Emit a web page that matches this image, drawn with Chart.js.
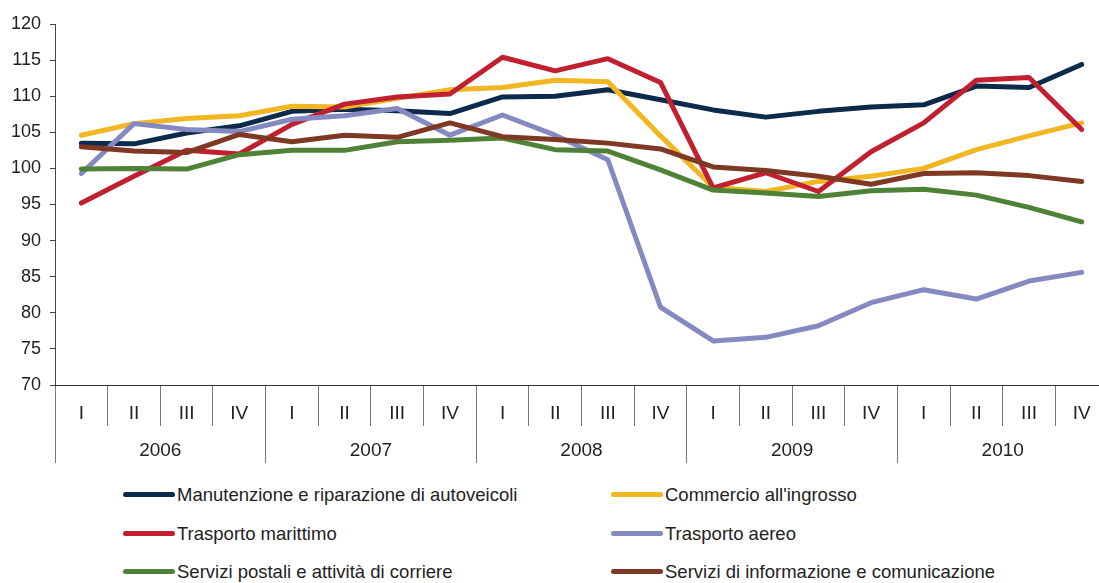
<!DOCTYPE html>
<html>
<head>
<meta charset="utf-8">
<script src="https://cdn.jsdelivr.net/npm/chart.js@4/dist/chart.umd.min.js"></script>
<style>
  html, body { margin: 0; padding: 0; background: #fff; overflow: hidden; }
  #wrap { position: relative; width: 1099px; height: 583px; overflow: hidden; }
  #chart { position: absolute; left: 0; top: 0; }
  .item { position: absolute; height: 24px; font: 18.5px "Liberation Sans", Arial, sans-serif; color: #222; white-space: nowrap; }
  .item .swatch { position: absolute; left: 0; top: 9px; width: 52px; height: 5px; border-radius: 3px; }
  .item .label { position: absolute; left: 54px; top: 0; line-height: 24px; }
</style>
</head>
<body>
<div id="wrap">
  <canvas id="chart" width="1108" height="470"></canvas>
  <div id="legend"></div>
</div>
<script>
var quarters = ["I", "II", "III", "IV", "I", "II", "III", "IV", "I", "II", "III", "IV",
  "I", "II", "III", "IV", "I", "II", "III", "IV"];
var years = ["2006", "2007", "2008", "2009", "2010"];
var yTicks = { min: 70, max: 120, step: 5 };

var manutenzione = [103.5, 103.4, 104.9, 105.9, 107.9, 108.2, 108.0, 107.6, 109.9, 110.0,
  110.9, 109.5, 108.1, 107.1, 107.9, 108.5, 108.8, 111.4, 111.2, 114.4];
var commercio = [104.6, 106.2, 106.9, 107.3, 108.6, 108.5, 109.7, 110.9, 111.2, 112.2,
  112.0, 104.5, 97.4, 96.8, 98.2, 98.9, 100.0, 102.6, 104.5, 106.3];
var marittimo = [95.2, 98.9, 102.5, 102.0, 106.1, 108.9, 109.9, 110.3, 115.4, 113.5,
  115.2, 111.9, 97.3, 99.4, 96.8, 102.3, 106.3, 112.2, 112.6, 105.4];
var aereo = [99.3, 106.2, 105.4, 105.1, 106.8, 107.3, 108.3, 104.6, 107.4, 104.6,
  101.2, 80.8, 76.1, 76.6, 78.2, 81.4, 83.2, 81.9, 84.4, 85.6];
var postali = [99.9, 100.0, 99.9, 101.9, 102.5, 102.5, 103.7, 103.9, 104.2, 102.6,
  102.4, 99.8, 97.0, 96.6, 96.1, 96.9, 97.1, 96.3, 94.6, 92.6];
var informazione = [103.0, 102.4, 102.2, 104.7, 103.7, 104.6, 104.3, 106.3, 104.4, 104.0,
  103.5, 102.7, 100.2, 99.7, 98.9, 97.8, 99.3, 99.4, 99.0, 98.2];

var seriesNames = [
  "Manutenzione e riparazione di autoveicoli",
  "Commercio all'ingrosso",
  "Trasporto marittimo",
  "Trasporto aereo",
  "Servizi postali e attività di corriere",
  "Servizi di informazione e comunicazione"
];
var seriesData = [manutenzione, commercio, marittimo, aereo, postali, informazione];
var seriesColors = ["#0c2a4b", "#f3b623", "#c0202f", "#8589c1", "#4e8237", "#7e3823"];

var font = "'Liberation Sans', Arial, sans-serif";
var textColor = "#222";

// later series sit on top of earlier ones
var datasets = seriesNames.map(function (name, i) {
  return {
    label: name,
    data: seriesData[i],
    borderColor: seriesColors[i],
    backgroundColor: seriesColors[i],
    borderWidth: 5,
    borderCapStyle: "round",
    borderJoinStyle: "round",
    pointRadius: 0,
    tension: 0,
    order: seriesNames.length - i
  };
});

var ctx = document.getElementById("chart");
var chart = new Chart(ctx, {
  type: "line",
  data: { labels: quarters, datasets: datasets },
  options: {
    responsive: false,
    animation: false,
    devicePixelRatio: 1,
    layout: { padding: { top: 24, right: 0, left: 0, bottom: 7 } },
    plugins: { legend: { display: false }, tooltip: { enabled: false } },
    scales: {
      y: {
        min: yTicks.min,
        max: yTicks.max,
        ticks: { stepSize: yTicks.step, padding: 9, color: textColor, font: { family: font, size: 18 } },
        grid: { drawOnChartArea: false, tickLength: 5, color: "#444" },
        border: { color: "#444" },
        afterFit: function (scale) { scale.width = 55; }
      },
      x: {
        weight: 0,
        offset: true,
        ticks: { padding: -23.4, maxRotation: 0, autoSkip: false, color: textColor, font: { family: font, size: 19 } },
        grid: { offset: true, drawOnChartArea: false, tickLength: 41, color: "#777" },
        border: { color: "#333" },
        afterFit: function (scale) { scale.height = 40; }
      },
      x2: {
        type: "category",
        position: "bottom",
        weight: 1,
        labels: years,
        offset: true,
        ticks: { padding: -23.4, maxRotation: 0, autoSkip: false, color: textColor, font: { family: font, size: 19 } },
        grid: { offset: true, drawOnChartArea: false, tickLength: 38, color: "#777" },
        border: { display: false },
        afterFit: function (scale) { scale.height = 38; }
      }
    }
  }
});

// two-column legend under the axis
var legend = document.getElementById("legend");
var colX = [123, 611];
var rowY = [483, 521.5, 559.5];
seriesNames.forEach(function (name, i) {
  var item = document.createElement("div");
  item.className = "item";
  item.style.left = colX[i % 2] + "px";
  item.style.top = rowY[Math.floor(i / 2)] + "px";
  var sw = document.createElement("div");
  sw.className = "swatch";
  sw.style.background = seriesColors[i];
  var lb = document.createElement("span");
  lb.className = "label";
  lb.textContent = name;
  item.appendChild(sw);
  item.appendChild(lb);
  legend.appendChild(item);
});
</script>
</body>
</html>
